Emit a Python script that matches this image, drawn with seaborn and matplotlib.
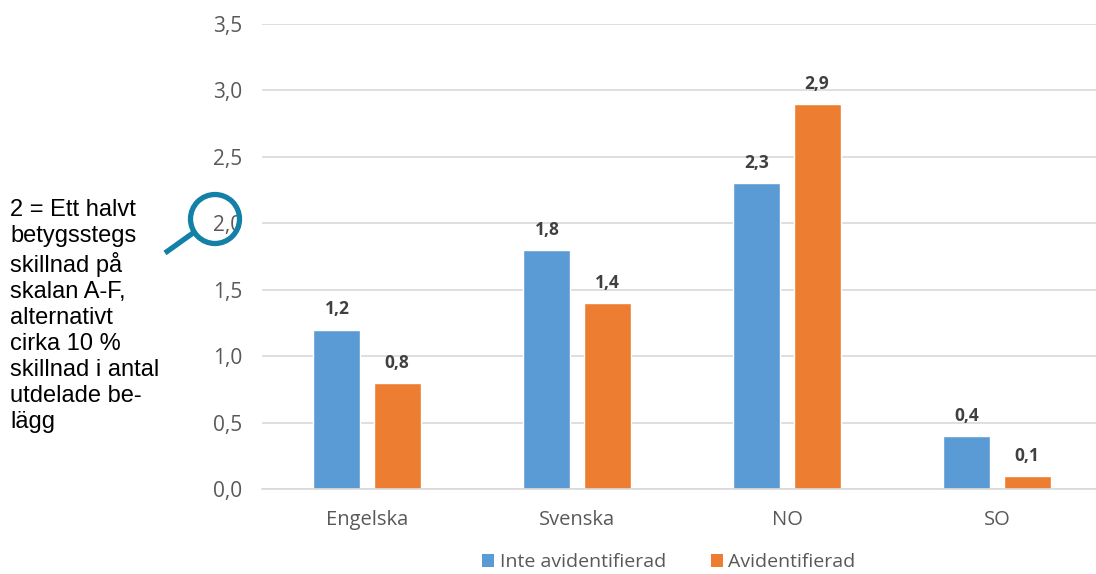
import matplotlib
matplotlib.use("Agg")
import matplotlib.pyplot as plt
from matplotlib.patches import Circle
from matplotlib.lines import Line2D
import seaborn as sns
import pandas as pd

# Data
categories = ["Engelska", "Svenska", "NO", "SO"]
series_names = ["Inte avidentifierad", "Avidentifierad"]
inte_avidentifierad = [1.2, 1.8, 2.3, 0.4]
avidentifierad = [0.8, 1.4, 2.9, 0.1]
y_ticks = [0.0, 0.5, 1.0, 1.5, 2.0, 2.5, 3.0, 3.5]
note_lines = ["2 = Ett halvt", "betygsstegs", "skillnad på", "skalan A-F,",
              "alternativt", "cirka 10 %", "skillnad i antal", "utdelade be-", "lägg"]

colors = ["#5B9BD5", "#ED7D31"]

df = pd.DataFrame({
    "Ämne": categories * 2,
    "Serie": [series_names[0]] * len(categories) + [series_names[1]] * len(categories),
    "Värde": inte_avidentifierad + avidentifierad,
})

sns.set_theme(style="white")
plt.rcParams["font.family"] = ["Open Sans", "DejaVu Sans"]

W, H = 1096, 574
fig = plt.figure(figsize=(W / 100, H / 100), dpi=100)
left_px, right_px, top_px, bottom_px = 262, 1096, 24, 489
ax = fig.add_axes([left_px / W, 1 - bottom_px / H,
                   (right_px - left_px) / W, (bottom_px - top_px) / H])

sns.barplot(data=df, x="Ämne", y="Värde", hue="Serie", hue_order=series_names,
            palette=colors, width=0.572, gap=0.217, ax=ax, legend=True,
            saturation=1, errorbar=None)

ax.set_xlim(-0.5, -0.5 + (right_px - left_px) / 210)
ax.set_ylim(0, 3.5)
ax.set_yticks(y_ticks)
ax.set_yticklabels([f"{v:.1f}".replace(".", ",") for v in y_ticks])
ax.set_xlabel("")
ax.set_ylabel("")
ax.grid(axis="y", color="#D9D9D9", linewidth=1.2)
ax.set_axisbelow(True)
for s in ["left", "right", "top"]:
    ax.spines[s].set_visible(False)
ax.spines["bottom"].set_color("#D9D9D9")
ax.spines["bottom"].set_linewidth(1.2)
ax.tick_params(axis="y", length=0, pad=14, labelsize=15, labelcolor="#595959")
ax.tick_params(axis="x", length=0, pad=15, labelsize=14.5, labelcolor="#595959")

for cont in ax.containers:
    ax.bar_label(cont, labels=[f"{b.get_height():.1f}".replace(".", ",") for b in cont],
                 padding=8, fontsize=12.5, fontweight="bold", color="#404040")

leg = ax.legend(loc="center", bbox_to_anchor=(0.488, -0.158), ncol=2, frameon=False,
                fontsize=14, handlelength=0.6, handleheight=0.6, handletextpad=0.3,
                columnspacing=2.3, labelcolor="#595959")
for h in leg.legend_handles:
    h.set_edgecolor("none")

# Side note with magnifier glass
fig.text(10 / W, 1 - 199 / H, "\n".join(note_lines), ha="left", va="top",
         fontsize=17, family=["Liberation Sans", "DejaVu Sans"], color="black",
         linespacing=1.235)

mag_color = "#1380A8"
fig.add_artist(Circle((215 / 100, (H - 219) / 100), 0.245, transform=fig.dpi_scale_trans,
                      fill=False, edgecolor=mag_color, linewidth=3.8))
fig.add_artist(Line2D([193 / 100, 165 / 100], [(H - 233) / 100, (H - 253) / 100],
                      transform=fig.dpi_scale_trans, color=mag_color, linewidth=3.8,
                      solid_capstyle="butt"))

fig.savefig("out.png", dpi=100)
